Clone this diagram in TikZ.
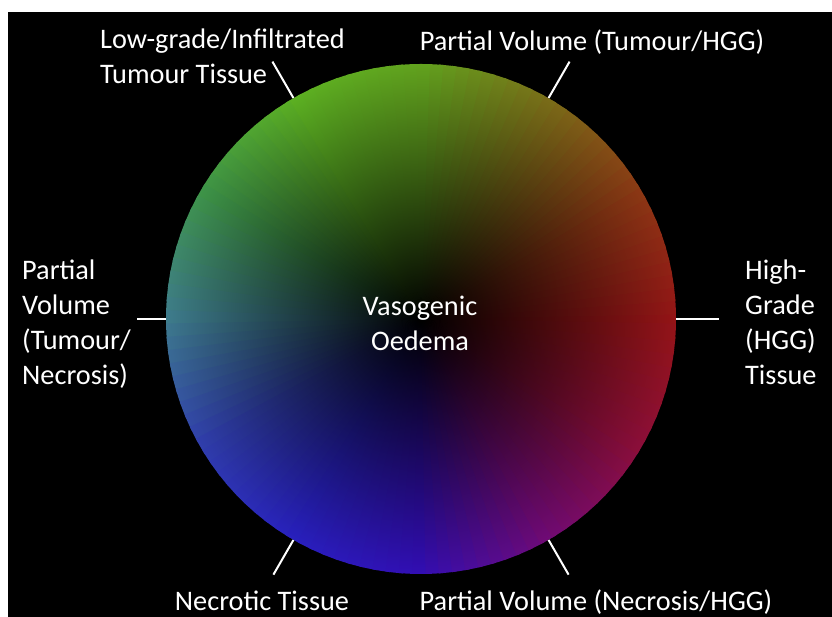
\documentclass[tikz,border=0pt]{standalone}
\usepackage{fontspec}
\setmainfont{Carlito}
\usepackage{tikz}

% hue of the wheel rim, every 30 degrees
\definecolor{hue0}{RGB}{148,20,22}
\definecolor{hue1}{RGB}{140,55,20}
\definecolor{hue2}{RGB}{122,108,24}
\definecolor{hue3}{RGB}{98,162,30}
\definecolor{hue4}{RGB}{92,176,34}
\definecolor{hue5}{RGB}{62,148,72}
\definecolor{hue6}{RGB}{62,124,140}
\definecolor{hue7}{RGB}{48,62,172}
\definecolor{hue8}{RGB}{40,32,190}
\definecolor{hue9}{RGB}{50,14,180}
\definecolor{hue10}{RGB}{112,10,118}
\definecolor{hue11}{RGB}{140,14,58}
\colorlet{hue12}{hue0}

\begin{document}
\begin{tikzpicture}[x=1pt,y=1pt]
    \tikzset{tissue/.style = {text=white, font=\fontsize{28.3}{35}\selectfont, inner sep=0pt, align=left}}
    \tikzset{leader/.style = {draw=white, line width=2pt}}
    \useasboundingbox (0,0) rectangle (832,617);
    \fill[white] (0,0) rectangle (832,617);
    \fill[black] (8,0) rectangle (832,605);

    % wheel: thin wedges, each shaded from black at the hub to its rim hue
    \node[circle, minimum size=510pt, inner sep=0pt] (wheel) at (421,298) {};
    \foreach \i [evaluate=\i as \j using int(\i+1)] in {0,...,11}
    {
      \foreach \k [evaluate=\k as \pct using int(100-\k*10)] in {0,...,9}
      {
        \colorlet{sectcol}{hue\i!\pct!hue\j}
        \begin{scope}[transform canvas={shift={(wheel.center)}, rotate=30*\i+3*\k}]
          \shade[left color=black, right color=sectcol]
            (0,0) -- (-2:255pt) arc[start angle=-2, end angle=2, radius=255pt] -- cycle;
        \end{scope}
      }
    }

    % labels
    \node[tissue, anchor=north west] (lowgrade) at (100,588) {Low-grade/Infiltrated\\Tumour Tissue};
    \node[tissue, anchor=base] (tumhgg) at (592,566) {Partial Volume (Tumour/HGG)};
    \node[tissue, anchor=north west] (tumnec) at (22,357) {Partial\\Volume\\(Tumour/\\Necrosis)};
    \node[tissue, anchor=north, align=center] (oedema) at (420,321) {Vasogenic\\Oedema};
    \node[tissue, anchor=north west] (hggtis) at (745,357) {High-\\Grade\\(HGG)\\Tissue};
    \node[tissue, anchor=base] (necrotic) at (262,6) {Necrotic Tissue};
    \node[tissue, anchor=base] (nechgg) at (596,6) {Partial Volume (Necrosis/HGG)};

    % leader lines
    \path (wheel.120) ++(120:42) coordinate (lgtip);
    \path (wheel.60)  ++(60:42)  coordinate (thtip);
    \path (wheel.180) ++(180:29) coordinate (tntip);
    \path (wheel.0)   ++(0:43)   coordinate (hgtip);
    \path (wheel.240) ++(240:40) coordinate (nctip);
    \path (wheel.300) ++(300:40) coordinate (nhtip);
    \foreach \a/\t in {120/lgtip, 60/thtip, 180/tntip, 0/hgtip, 240/nctip, 300/nhtip}
      \draw[leader] (wheel.\a) -- (\t);
\end{tikzpicture}
\end{document}
